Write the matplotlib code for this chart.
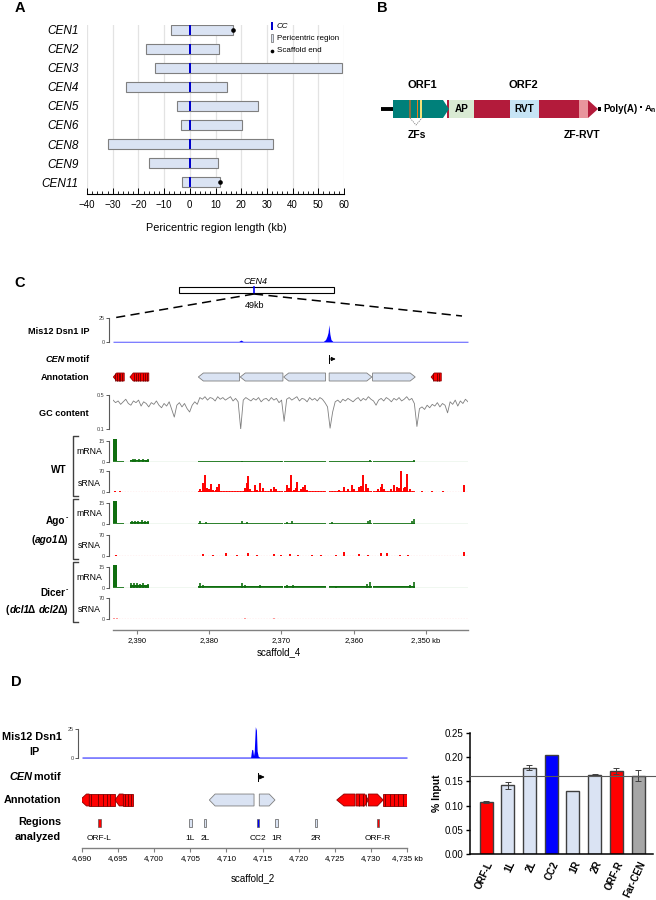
import matplotlib
matplotlib.use("Agg")
import matplotlib.pyplot as plt
import numpy as np
from matplotlib.patches import Polygon, Rectangle
from matplotlib.ticker import MultipleLocator

plt.rcParams["font.family"] = ["Liberation Sans", "DejaVu Sans"]
plt.rcParams["mathtext.fontset"] = "custom"
plt.rcParams["mathtext.rm"] = "Liberation Sans"
plt.rcParams["mathtext.bf"] = "Liberation Sans:bold"

# ---------------- panel A: pericentric regions (kb from CC)
cen_names = ["CEN1", "CEN2", "CEN3", "CEN4", "CEN5", "CEN6", "CEN8", "CEN9", "CEN11"]
peri_left = [-7.5, -17.0, -13.6, -24.8, -4.9, -3.4, -31.9, -15.8, -3.2]
peri_right = [16.8, 11.2, 59.4, 14.4, 26.6, 20.5, 32.3, 10.9, 11.8]
cc_pos = [0.0, 0.0, 0.0, 0.0, 0.0, 0.0, 0.0, 0.0, 0.0]
end_names = ["CEN1", "CEN11"]
end_pos = [16.8, 11.8]

# ---------------- panel B: element layout (schematic units)
orf1_span = (393, 449)
orf2_starts = [449, 474, 510, 539, 579]
orf2_ends = [474, 510, 539, 579, 588]
orf2_colors = ["#d9ead3", "#b31b3b", "#c6e4f5", "#b31b3b", "#e8959d"]
orf2_labels = ["AP", "", "RVT", "", ""]
orf2_tip = (588, 598)
zf_pos = [410, 417.5, 421]
zf_colors = ["#8c6d3f", "#f07d1a", "#f2e27a"]

# ---------------- panel C: scaffold_4 (kb)
c_xlim = (2393.3, 2344.2)
c_ticks = [2390, 2380, 2370, 2360, 2350]
c_ticklabels = ["2,390", "2,380", "2,370", "2,360", "2,350 kb"]
c_mis12_pos = [2393.3, 2375.9, 2375.6, 2375.3, 2364.2, 2363.9, 2363.7, 2363.55,
               2363.45, 2363.3, 2363.15, 2362.9, 2344.2]
c_mis12_val = [0.7, 0.7, 2.0, 0.7, 0.7, 2.5, 6.0, 10.0, 18.0, 8.0, 2.5, 0.7, 0.7]
c_motif = 2363.4
c_red_tail = [2391.75, 2388.35, 2347.9]
c_red_head = [2393.25, 2390.95, 2349.3]
c_red_stripes = [2393.0, 2392.75, 2392.5, 2392.3, 2392.05, 2390.4, 2390.1, 2389.8,
                 2389.5, 2389.2, 2388.9, 2388.6, 2349.0, 2348.5, 2348.2]
c_rep_tail = [2375.8, 2369.8, 2363.9, 2363.4, 2357.4]
c_rep_head = [2381.5, 2375.7, 2369.7, 2357.5, 2351.5]

gc_content = [
    0.44, 0.41, 0.43, 0.39, 0.42, 0.45, 0.40, 0.38, 0.43, 0.41, 0.44, 0.37, 0.42, 0.40,
    0.36, 0.41, 0.39, 0.43, 0.38, 0.35, 0.40, 0.37, 0.42, 0.33, 0.24, 0.38, 0.41, 0.36,
    0.40, 0.34, 0.30, 0.38, 0.42, 0.39,
    0.47, 0.45, 0.48, 0.44, 0.47, 0.46, 0.43, 0.48, 0.45, 0.47, 0.44, 0.46, 0.48, 0.43,
    0.46, 0.42, 0.10,
    0.44, 0.47, 0.45, 0.43, 0.46, 0.44, 0.47, 0.42, 0.45, 0.46, 0.43, 0.47, 0.44, 0.46,
    0.41, 0.44, 0.19,
    0.45, 0.47, 0.44, 0.46, 0.48, 0.43, 0.46, 0.45, 0.42, 0.47, 0.44, 0.46, 0.43, 0.47,
    0.45, 0.41, 0.36, 0.11, 0.30,
    0.42, 0.44, 0.41, 0.45, 0.43, 0.46, 0.44, 0.42, 0.45, 0.47, 0.43, 0.46, 0.44, 0.48,
    0.45, 0.43, 0.38, 0.44, 0.46, 0.43, 0.47, 0.45, 0.42, 0.46, 0.44, 0.47, 0.43, 0.45,
    0.48, 0.44, 0.46, 0.40, 0.13,
    0.34, 0.36, 0.33, 0.38, 0.35, 0.39, 0.37, 0.41, 0.36, 0.40, 0.38, 0.29, 0.42, 0.39,
    0.44, 0.37, 0.43, 0.40, 0.45, 0.42,
]

mrna_spike = (2393.28, 2392.8)
wt_mrna_levels = [16.2, 0.7, 1.3, 0.6]     # spike, next to spike, left genes, repeats
wt_mrna_pos = [2390.6, 2390.2, 2389.7, 2389.2, 2388.8, 2388.5, 2375.5, 2370.0, 2357.7, 2351.7]
wt_mrna_val = [2.4, 1.8, 2.0, 2.2, 1.6, 2.0, 1.0, 0.8, 1.5, 1.5]
ago_mrna_levels = [16.2, 0.6, 1.5, 1.0]
ago_mrna_pos = [2390.7, 2390.2, 2389.8, 2389.3, 2388.9, 2388.5, 2381.3, 2380.5, 2375.5,
                2374.8, 2369.3, 2368.5, 2363.0, 2358.0, 2357.7, 2352.0, 2351.7]
ago_mrna_val = [2.2, 2.4, 2.0, 2.8, 1.8, 2.2, 2.5, 1.5, 2.5, 1.5, 1.2, 2.0, 1.2, 2.2, 3.0,
                2.0, 3.5]
dcr_mrna_levels = [16.2, 0.6, 2.0, 1.2]
dcr_mrna_pos = [2390.8, 2390.4, 2390.0, 2389.6, 2389.1, 2388.7, 2388.4, 2381.3, 2380.8,
                2375.5, 2375.0, 2373.0, 2369.2, 2368.4, 2362.5, 2358.2, 2357.7, 2352.2,
                2351.7]
dcr_mrna_val = [3.8, 3.5, 3.6, 3.0, 3.4, 2.5, 2.8, 3.5, 2.0, 3.5, 2.5, 1.8, 1.8, 2.4, 1.5,
                3.0, 4.5, 2.5, 4.5]

wt_srna_level = 2.0
wt_srna_pos = [2380.9, 2380.6, 2380.3, 2379.8, 2379.4, 2378.9, 2378.6, 2374.8, 2374.6,
               2373.7, 2372.9, 2371.1, 2370.8, 2369.3, 2368.7, 2368.3, 2367.8, 2367.0,
               2366.7, 2361.4, 2360.3, 2359.3, 2358.7, 2358.3, 2356.3, 2356.1, 2354.5,
               2354.0, 2353.4, 2353.1, 2352.6, 2344.8,
               2381.2, 2380.0, 2379.1, 2375.1, 2374.3, 2373.4, 2372.6, 2371.4, 2369.0,
               2368.0, 2367.3, 2366.4, 2362.0, 2360.8, 2359.9, 2359.0, 2358.0, 2356.6,
               2355.8, 2354.8, 2353.7, 2352.9, 2352.2, 2393.0, 2392.4, 2350.5, 2349.2,
               2347.7]
wt_srna_val = [29, 56, 13, 27, 8, 18, 26, 29, 53, 22, 29, 18, 11, 24, 58, 8, 34, 18, 22,
               18, 24, 18, 56, 27, 18, 26, 24, 16, 70, 13, 59, 22,
               10, 9, 7, 12, 10, 8, 12, 9, 14, 12, 9, 8, 7, 10, 9, 20, 12, 10, 9, 10, 14,
               18, 10, 3, 2, 3, 3, 4]
ago_srna_level = 1.2
ago_srna_pos = [2380.8, 2377.7, 2374.6, 2373.4, 2371.1, 2368.8, 2367.7, 2365.8, 2361.4,
                2359.3, 2356.3, 2355.4, 2353.6, 2344.8, 2379.5, 2376.2, 2370.0, 2364.5,
                2362.4, 2358.0, 2352.5, 2392.9]
ago_srna_val = [6, 9, 9, 5, 8, 6, 4, 5, 12, 6, 9, 9, 4, 12, 3, 3, 4, 3, 3, 4, 3, 2]
dcr_srna_level = 0.6
dcr_srna_pos = [2393.1, 2392.8, 2391.5, 2390.5, 2389.5, 2381.0, 2375.0, 2371.0, 2362.0,
                2356.0, 2353.3, 2345.0]
dcr_srna_val = [3, 2, 1.5, 1.5, 1.5, 1.5, 2, 2, 1.5, 1.5, 1.5, 1.5]

# ---------------- panel D: scaffold_2 (kb)
d_xlim = (4690, 4735)
d_ticks = [4690, 4695, 4700, 4705, 4710, 4715, 4720, 4725, 4730, 4735]
d_ticklabels = ["4,690", "4,695", "4,700", "4,705", "4,710", "4,715", "4,720", "4,725",
                "4,730", "4,735 kb"]
d_mis12_pos = [4690, 4713.35, 4713.5, 4713.65, 4713.75, 4713.85, 4714.0, 4714.15,
               4714.25, 4714.4, 4714.6, 4735]
d_mis12_val = [0.8, 0.8, 7.5, 7.0, 2.0, 6.0, 27.0, 24.0, 6.0, 1.5, 0.8, 0.8]
d_motif = 4714.4
d_red_tail = [4691.0, 4691.0, 4695.72, 4695.72, 4727.8, 4727.94, 4729.65, 4731.7]
d_red_head = [4689.72, 4694.57, 4694.57, 4697.1, 4725.27, 4729.65, 4731.7, 4735.05]
d_red_tip = [0.9, 0.0, 0.6, 0.0, 1.0, 0.5, 0.8, 0.0]
d_red_stripes = [4691.3, 4692.2, 4692.9, 4693.4, 4693.9, 4696.0, 4696.4, 4696.8,
                 4728.3, 4728.9, 4729.3, 4732.0, 4732.6, 4733.2, 4733.8, 4734.4]
d_rep_tail = [4713.82, 4714.55]
d_rep_head = [4707.63, 4716.72]
reg_names = ["ORF-L", "1L", "2L", "CC2", "1R", "2R", "ORF-R", "Far-CEN"]
reg_pos = [4692.4, 4705.0, 4707.0, 4714.4, 4716.9, 4722.4, 4731.0]
reg_colors = ["#ff0000", "#dae3f3", "#dae3f3", "#0000ff", "#dae3f3", "#dae3f3", "#ff0000",
              "#a6a6a6"]
pct_input = [0.108, 0.142, 0.178, 0.205, 0.130, 0.164, 0.172, 0.162]
pct_err = [0.002, 0.0075, 0.005, 0.0, 0.0, 0.002, 0.006, 0.011]
far_cen_level = 0.162

# ================================================================ layout
W, H = 656, 900
fig = plt.figure(figsize=(W / 100, H / 100), dpi=100)
renderer = fig.canvas.get_renderer()


def px_axes(x0, y0, x1, y1):
    return fig.add_axes([x0 / W, 1 - y1 / H, (x1 - x0) / W, (y1 - y0) / H])


over = px_axes(0, 0, W, H)
over.set_xlim(0, W)
over.set_ylim(H, 0)
over.axis("off")
over.set_zorder(10)


def rich_text(x, y, parts, ha="right", size=7):
    """parts: (text, style, weight, size_or_None, dy)"""
    widths = []
    for s, st, wt, fs, dy in parts:
        t = over.text(0, 0, s, fontsize=fs or size, fontstyle=st, fontweight=wt)
        w = t.get_window_extent(renderer).width
        widths.append(w - 1.0 if st == "italic" else w)
        t.remove()
    total = sum(widths)
    cur = x - total if ha == "right" else (x - total / 2 if ha == "center" else x)
    for (s, st, wt, fs, dy), w in zip(parts, widths):
        over.text(cur, y + dy, s, fontsize=fs or size, fontstyle=st, fontweight=wt,
                  ha="left", va="center")
        cur += w


def draw_gene(ax, tail, head, tip, face, edge, half=0.5):
    d = np.sign(head - tail)
    neck = head - d * min(tip, abs(head - tail))
    verts = [(tail, -half), (neck, -half), (head, 0), (neck, half), (tail, half)]
    ax.add_patch(Polygon(verts, closed=True, fc=face, ec=edge, lw=0.6))


def track_axes(x0, x1, y_top_tick, y_zero, top_tick, ymax, xlim, labels=None):
    span = y_zero - y_top_tick
    y_top = y_top_tick - (ymax - top_tick) / top_tick * span
    ax = px_axes(x0, y_top, x1, y_zero)
    ax.set_xlim(*xlim)
    ax.set_ylim(0, ymax)
    ax.patch.set_visible(False)
    for s in ax.spines.values():
        s.set_visible(False)
    ax.set_xticks([])
    sp = ax.spines["left"]
    sp.set_visible(True)
    sp.set_position(("outward", 3))
    sp.set_bounds(0, top_tick)
    sp.set_color("#595959")
    sp.set_linewidth(0.8)
    ax.set_yticks([0, top_tick], labels or ["0", str(top_tick)])
    ax.tick_params(axis="y", length=2, width=0.6, pad=1, labelsize=4, colors="#404040")
    return ax


def blank_axes(x0, y0, x1, y1, xlim, ylim):
    ax = px_axes(x0, y0, x1, y1)
    ax.set_xlim(*xlim)
    ax.set_ylim(*ylim)
    ax.axis("off")
    return ax


def scale_axis(x0, x1, y, xlim, ticks, labels, size=5.5):
    ax = px_axes(x0, y - 10, x1, y)
    ax.set_xlim(*xlim)
    ax.patch.set_visible(False)
    for k in ("left", "right", "top"):
        ax.spines[k].set_visible(False)
    ax.spines["bottom"].set_color("#808080")
    ax.spines["bottom"].set_linewidth(1.0)
    ax.set_yticks([])
    ax.set_xticks(ticks, labels)
    ax.tick_params(axis="x", length=3, width=0.8, colors="#808080", labelcolor="black",
                   labelsize=size, pad=2)
    return ax


# ---------------- panel letters
for letter, (lx, ly) in zip("ABCD", [(20, 8), (382, 8), (20, 283), (16, 682)]):
    over.text(lx, ly, letter, fontsize=10.5, fontweight="bold", ha="center", va="center")

# ================================================================ panel A
axA = px_axes(87, 25, 344, 194)
rows = np.arange(len(cen_names))
left = np.array(peri_left)
right = np.array(peri_right)
axA.barh(rows, right - left, left=left, height=0.55, color="#dae3f3",
         edgecolor="#7f7f7f", linewidth=0.8, zorder=2)
axA.barh(rows, 0.9, left=np.array(cc_pos) - 0.45, height=0.55, color="#0000cc",
         linewidth=0, zorder=3)
axA.scatter(end_pos, [cen_names.index(n) for n in end_names], s=11, color="black",
            zorder=4, linewidths=0)
axA.set_xlim(-40, 60)
axA.set_ylim(8.63, -0.26)
axA.set_xticks(range(-40, 61, 10))
axA.xaxis.set_minor_locator(MultipleLocator(2))
axA.xaxis.grid(True, color="#e3e3e3", linewidth=0.9)
axA.set_axisbelow(True)
for k in ("left", "right", "top"):
    axA.spines[k].set_visible(False)
axA.spines["bottom"].set_linewidth(0.8)
axA.tick_params(axis="x", which="major", direction="in", length=4, width=0.7,
                labelsize=7, pad=4)
axA.tick_params(axis="x", which="minor", direction="in", length=2.5, width=0.6)
axA.set_yticks(rows, cen_names, fontstyle="italic", fontsize=8.5)
axA.tick_params(axis="y", length=0, pad=6)
over.text(216, 228, "Pericentric region length (kb)", fontsize=7.8, ha="center",
          va="center")

# legend
over.add_patch(Rectangle((270.8, 22), 2.2, 8, fc="#0000cc", ec="none"))
over.text(277, 26, "CC", fontsize=5.8, fontstyle="italic", va="center")
over.add_patch(Rectangle((270.5, 34), 2.8, 8, fc="#dae3f3", ec="#7f7f7f", lw=0.6))
over.text(277, 38, "Pericentric region", fontsize=5.8, va="center")
over.scatter([272], [51], s=7, color="black", linewidths=0)
over.text(277, 51, "Scaffold end", fontsize=5.8, va="center")

# ================================================================ panel B
axB = blank_axes(370, 60, 656, 150, (370, 656), (150, 60))
yc, hh = 109, 9
axB.plot([381, orf1_span[0]], [yc, yc], color="black", lw=2.8, solid_capstyle="butt")
axB.add_patch(Rectangle((orf1_span[1] - 2, yc - hh), 2, 2 * hh, fc="#b31b3b", ec="none"))
o1, o2 = orf1_span
axB.add_patch(Polygon([(o1, yc - hh), (o2 - 6, yc - hh), (o2, yc), (o2 - 6, yc + hh),
                       (o1, yc + hh)], closed=True, fc="#00807a", ec="none"))
for xz, cz in zip(zf_pos, zf_colors):
    axB.add_patch(Rectangle((xz - 0.9, yc - hh), 1.8, 2 * hh, fc=cz, ec="none"))
for s, e, c, lab in zip(orf2_starts, orf2_ends, orf2_colors, orf2_labels):
    axB.add_patch(Rectangle((s, yc - hh), e - s, 2 * hh, fc=c, ec="none"))
    if lab:
        axB.text((s + e) / 2, yc, lab, fontsize=7.2, fontweight="bold", ha="center",
                 va="center")
t0, t1 = orf2_tip
axB.add_patch(Polygon([(t0, yc - hh), (t1, yc), (t0, yc + hh)], closed=True,
                      fc="#b31b3b", ec="none"))
axB.add_patch(Rectangle((t1, yc - 2), 3, 4, fc="black", ec="none"))
axB.text(603, yc, "Poly(A)", fontsize=7, fontweight="bold", ha="left", va="center")
axB.add_patch(Rectangle((639.5, yc - 3.5), 2.4, 2.4, fc="black", ec="none"))
axB.text(643.5, yc, r"A$_{\mathbf{n}}$", fontsize=6.8, fontweight="bold", ha="left",
         va="center")
axB.plot([zf_pos[0], 416, zf_pos[-1] + 1], [yc + hh, yc + 16, yc + hh], color="#808080",
         lw=0.6, ls=(0, (1.5, 1.2)))
axB.text(422, 85, "ORF1", fontsize=8, fontweight="bold", ha="center", va="center")
axB.text(523, 85, "ORF2", fontsize=8, fontweight="bold", ha="center", va="center")
axB.text(417, 135, "ZFs", fontsize=7.5, fontweight="bold", ha="center", va="center")
axB.text(582, 135, "ZF-RVT", fontsize=7.5, fontweight="bold", ha="center", va="center")

# ================================================================ panel C
# CEN4 overview box and zoom lines
over.add_patch(Rectangle((179, 287), 155, 6, fc="white", ec="black", lw=0.8))
over.plot([254, 254], [287, 293], color="#0000ff", lw=1.2)
over.text(255, 281, "CEN4", fontsize=6.5, fontstyle="italic", ha="center", va="center")
over.text(255, 305, "49kb", fontsize=6.5, ha="center", va="center")
over.plot([254, 113], [294, 318], color="black", lw=1.1, ls=(0, (6, 3.5)))
over.plot([254, 462], [294, 316], color="black", lw=1.1, ls=(0, (6, 3.5)))

cx0, cx1 = 113, 468
ax = track_axes(cx0, cx1, 318, 342, 25, 25, c_xlim)
ax.fill_between(c_mis12_pos, c_mis12_val, color="#0000ff", lw=0)

ax = blank_axes(cx0, 352, cx1, 366, c_xlim, (-1, 1))
ax.plot([c_motif, c_motif], [-0.6, 0.6], color="black", lw=0.7)
ax.annotate("", xy=(c_motif - 0.9, 0), xytext=(c_motif, 0),
            arrowprops=dict(arrowstyle="-|>,head_length=0.25,head_width=0.12", lw=0.6,
                            color="black", shrinkA=0, shrinkB=0))

ax = blank_axes(cx0, 369, cx1, 385, c_xlim, (-1, 1))
for tl, hd in zip(c_red_tail, c_red_head):
    draw_gene(ax, tl, hd, 0.45, "#ff0000", "#8b0000")
ax.vlines(c_red_stripes, -0.5, 0.5, color="#6b0000", lw=0.6)
for tl, hd in zip(c_rep_tail, c_rep_head):
    draw_gene(ax, tl, hd, 0.7, "#dae3f3", "#7f7f7f")

ax = track_axes(cx0, cx1, 395, 429, 0.4, 0.4, c_xlim, ["0.1", "0.5"])
ax.set_ylim(0.1, 0.5)
ax.spines["left"].set_bounds(0.1, 0.5)
ax.set_yticks([0.1, 0.5], ["0.1", "0.5"])
ax.plot(np.linspace(c_xlim[0], c_xlim[1], len(gc_content)), gc_content, color="#7f7f7f",
        lw=0.6)

rep_spans = list(zip(c_rep_tail, c_rep_head))
green, green_base = "#0f6e0f", "#b5dbb5"
red, red_base = "#ff0000", "#ffc4c4"


def mrna_track(ytop, yzero, levels, pos, val):
    ax = track_axes(cx0, cx1, ytop, yzero, 15, 16.2, c_xlim)
    ax.plot(c_xlim, [0.15, 0.15], color=green_base, lw=1.0)
    spans = [(mrna_spike[0], mrna_spike[1], levels[0]),
             (mrna_spike[1], 2391.8, levels[1]),
             (c_red_head[1], c_red_tail[1], levels[2])]
    spans += [(a, b, levels[3]) for a, b in rep_spans]
    for a, b, lv in spans:
        ax.fill_between([a, b], 0, lv, color=green, lw=0)
    ax.vlines(pos, 0, val, color=green, lw=1.2)


def srna_track(ytop, yzero, level, pos, val, alpha=1.0):
    ax = track_axes(cx0, cx1, ytop, yzero, 70, 70, c_xlim)
    ax.plot(c_xlim, [0.6, 0.6], color=red_base, lw=1.0, ls=(0, (1, 1)))
    for a, b in rep_spans:
        ax.fill_between([a, b], 0, level, color=red, lw=0, alpha=alpha)
    ax.vlines(pos, 0, val, color=red, lw=1.4, alpha=alpha)


mrna_track(441, 462, wt_mrna_levels, wt_mrna_pos, wt_mrna_val)
srna_track(471, 492, wt_srna_level, wt_srna_pos, wt_srna_val)
mrna_track(503, 524, ago_mrna_levels, ago_mrna_pos, ago_mrna_val)
srna_track(535, 556, ago_srna_level, ago_srna_pos, ago_srna_val)
mrna_track(567, 588, dcr_mrna_levels, dcr_mrna_pos, dcr_mrna_val)
srna_track(598, 619, dcr_srna_level, dcr_srna_pos, dcr_srna_val, alpha=0.4)

scale_axis(cx0, cx1, 630, c_xlim, c_ticks, c_ticklabels)
over.text(279, 652, "scaffold_4", fontsize=7, ha="center", va="center")

# C labels
lab = dict(fontsize=6.6, fontweight="bold", ha="right", va="center")
over.text(89, 332, "Mis12 Dsn1 IP", **lab)
rich_text(89, 359, [("CEN", "italic", "bold", 6.6, 0), (" motif", "normal", "bold", 6.6, 0)])
over.text(89, 377, "Annotation", **lab)
over.text(89, 413, "GC content", **lab)
for yy in (452, 514, 577):
    over.text(89, yy, "mRNA", fontsize=6.3, ha="center", va="center")
for yy in (483, 546, 609):
    over.text(89, yy, "sRNA", fontsize=6.3, ha="center", va="center")
for y0, y1 in ((436, 496), (499, 559), (562, 622)):
    over.plot([78, 73, 73, 78], [y0, y0, y1, y1], color="#404040", lw=1.0)
over.text(67, 470, "WT", fontsize=7.2, fontweight="bold", ha="right", va="center")
rich_text(68, 521, [("Ago", "normal", "bold", 7.2, 0), ("-", "normal", "bold", 5, -3)])
rich_text(68, 540, [("(", "normal", "bold", 7.2, 0), ("ago1", "italic", "bold", 7.2, 0),
                    ("\u0394)", "normal", "bold", 7.2, 0)])
rich_text(68, 593, [("Dicer", "normal", "bold", 7.2, 0), ("-", "normal", "bold", 5, -3)])
rich_text(68, 610, [("(", "normal", "bold", 7.2, 0), ("dcl1", "italic", "bold", 7.2, 0),
                    ("\u0394 ", "normal", "bold", 7.2, 0), ("dcl2", "italic", "bold", 7.2, 0),
                    ("\u0394)", "normal", "bold", 7.2, 0)])

# ================================================================ panel D (tracks)
dx0, dx1 = 82, 407
ax = track_axes(dx0, dx1, 729, 758, 25, 28, d_xlim)
ax.fill_between(d_mis12_pos, d_mis12_val, color="#0000ff", lw=0)

ax = blank_axes(dx0, 770, dx1, 784, d_xlim, (-1, 1))
ax.plot([d_motif, d_motif], [-0.6, 0.6], color="black", lw=0.7)
ax.annotate("", xy=(d_motif + 0.9, 0), xytext=(d_motif, 0),
            arrowprops=dict(arrowstyle="-|>,head_length=0.3,head_width=0.14", lw=0.6,
                            color="black", shrinkA=0, shrinkB=0))

ax = blank_axes(dx0, 792, dx1, 808, d_xlim, (-0.67, 0.67))
for tl, hd, tp in zip(d_red_tail, d_red_head, d_red_tip):
    draw_gene(ax, tl, hd, tp, "#ff0000", "#8b0000")
ax.vlines(d_red_stripes, -0.5, 0.5, color="#6b0000", lw=0.6)
for tl, hd in zip(d_rep_tail, d_rep_head):
    draw_gene(ax, tl, hd, 0.8, "#dae3f3", "#7f7f7f")

ax = blank_axes(dx0, 815, dx1, 831, d_xlim, (1, -1))
for p, c, n in zip(reg_pos, reg_colors, reg_names):
    ax.add_patch(Rectangle((p - 0.17, -0.5), 0.34, 1.0, fc=c, ec="#595959", lw=0.5))
    ax.text(p, 1.9, n, fontsize=6, ha="center", va="center")

scale_axis(dx0, dx1, 848, d_xlim, d_ticks, d_ticklabels, size=5.8)
over.text(253, 878, "scaffold_2", fontsize=7, ha="center", va="center")

labD = dict(fontsize=7.8, fontweight="bold", va="center")
over.text(32, 737, "Mis12 Dsn1", ha="center", **labD)
over.text(34, 752, "IP", ha="center", **labD)
rich_text(61, 777, [("CEN", "italic", "bold", 7.8, 0), (" motif", "normal", "bold", 7.8, 0)])
over.text(61, 800, "Annotation", ha="right", **labD)
over.text(61, 822, "Regions", ha="right", **labD)
over.text(61, 837, "analyzed", ha="right", **labD)

# ================================================================ panel D (bars)
axD = px_axes(470, 733, 653, 854)
xb = np.arange(len(reg_names))
axD.bar(xb, pct_input, width=0.6, color=reg_colors, edgecolor="#3f3f3f", linewidth=1.0,
        zorder=2)
axD.errorbar(xb, pct_input, yerr=pct_err, fmt="none", ecolor="#404040", elinewidth=0.7,
             capsize=2.5, capthick=0.7, zorder=3)
axD.axhline(far_cen_level, color="#595959", lw=0.8, zorder=4, clip_on=False,
            xmax=1.02)
axD.set_xlim(-0.74, 7.69)
axD.set_ylim(0, 0.25)
axD.set_yticks([0, 0.05, 0.10, 0.15, 0.20, 0.25],
               ["0.00", "0.05", "0.10", "0.15", "0.20", "0.25"])
axD.set_xticks(xb, reg_names, rotation=65, ha="right", va="top", rotation_mode="anchor",
               fontweight="bold")
axD.tick_params(axis="y", length=3, width=1.0, labelsize=7, pad=2)
axD.tick_params(axis="x", length=0, labelsize=7, pad=4)
for k in ("top", "right"):
    axD.spines[k].set_visible(False)
for k in ("left", "bottom"):
    axD.spines[k].set_linewidth(1.1)
axD.set_ylabel("% Input", fontsize=7.5, fontweight="bold", labelpad=2)

fig.savefig("out.png", dpi=100)
